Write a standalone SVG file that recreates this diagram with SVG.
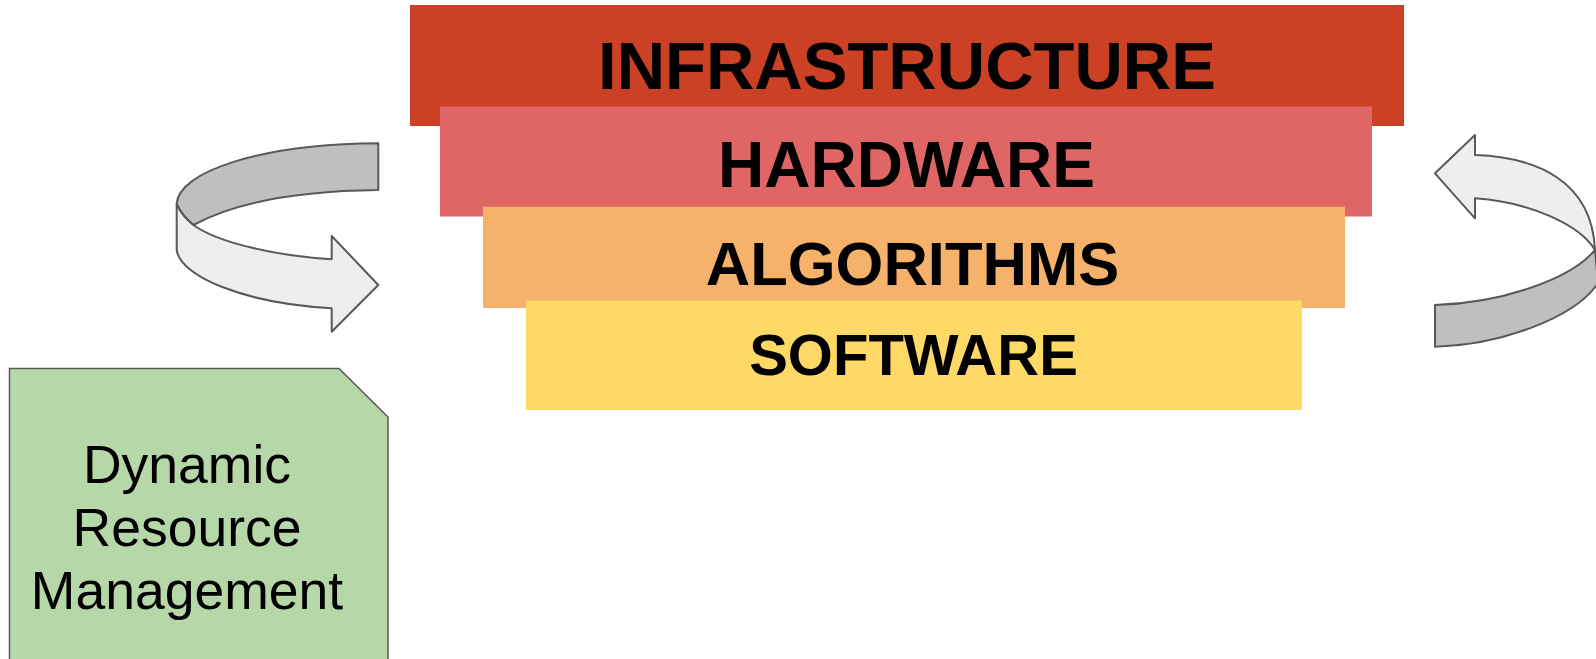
<svg xmlns="http://www.w3.org/2000/svg" width="1596" height="659" viewBox="0 0 1596 659">
<style>
.layer-text{font-family:"Liberation Sans",Arial,sans-serif;font-weight:bold;fill:#000;text-anchor:middle}
.body-text{font-family:"Liberation Sans",Arial,sans-serif;fill:#000;text-anchor:middle;font-size:53.5px}
.band-dark{fill:#bfbfbf;stroke:#595959;stroke-width:2;stroke-linejoin:round}
.band-light{fill:#eeeeee;stroke:#595959;stroke-width:2;stroke-linejoin:round}
</style>
<rect width="1596" height="659" fill="#ffffff"/>
<g id="infrastructure">
<rect x="410" y="5" width="994" height="121" fill="#cc4125"/>
<text class="layer-text" x="907" y="89" font-size="67">INFRASTRUCTURE</text>
</g>
<g id="hardware">
<rect x="440" y="106.5" width="932" height="110" fill="#e06666"/>
<text class="layer-text" x="906.5" y="187" font-size="64">HARDWARE</text>
</g>
<g id="algorithms">
<rect x="483" y="206.7" width="862" height="101.3" fill="#f6b26b"/>
<text class="layer-text" x="912.5" y="285" font-size="61.5">ALGORITHMS</text>
</g>
<g id="software">
<rect x="526" y="300.5" width="776" height="109.5" fill="#ffd966"/>
<text class="layer-text" x="913.5" y="375" font-size="58">SOFTWARE</text>
</g>
<g id="dynamic-resource-management">
<path d="M9.5,368.5 L339,368.5 L388,417 L388,670 L9.5,670 Z" fill="#b6d7a8" stroke="#595959" stroke-width="1.5"/>
<text class="body-text" x="187" y="482.5">Dynamic</text>
<text class="body-text" x="187" y="546">Resource</text>
<text class="body-text" x="187" y="609.3">Management</text>
</g>
<g id="connectors">
<g id="left-cycle-arrow">
<path class="band-dark" d="M378.3,143.3 C260,144 178,172 176.7,204 C180,212 186,219 193.3,225 C230,205 290,191 378.3,190 Z"/>
<path class="band-light" d="M176.7,204 L176.7,250 C180,275 240,303 331.7,308.3 L331.7,331.7 L378.3,285 L331.7,236 L331.7,259.3 C280,256 220,244 193.3,225 C186,219 180,212 176.7,204 Z"/>
</g>
<g id="right-cycle-arrow">
<path class="band-dark" d="M1435,305 C1500,303 1570,280 1595,250 L1598,283 C1575,318 1500,345 1435,346.7 Z"/>
<path class="band-light" d="M1435,173.3 L1475,135 L1475,155 C1535,157 1592,180 1595,250 C1580,225 1530,202 1475,198.3 L1475,218.3 Z"/>
</g>
</g>
</svg>
